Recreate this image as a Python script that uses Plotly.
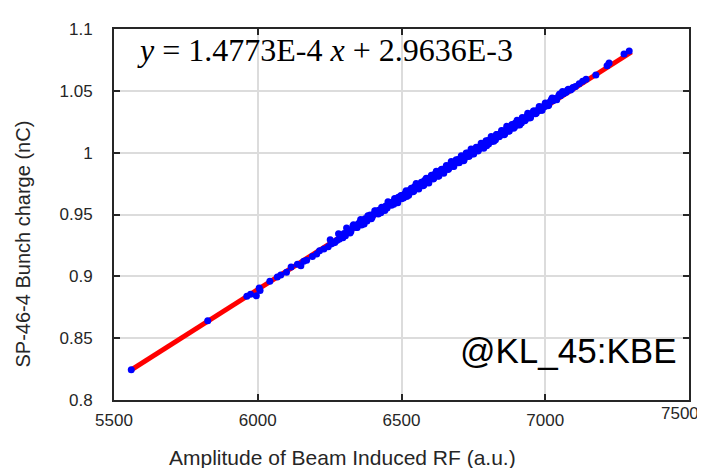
import plotly.graph_objects as go

# ---- data ----
x_vals = [5560, 5826, 5962, 5975, 5995, 6005, 6008, 6042, 6068, 6080, 6100, 6116, 6138, 6150, 6160,
          6170, 6190, 6205, 6215, 6230, 6245, 6255, 6262, 6275, 6283, 6292,
          6300, 6305, 6312, 6318, 6324, 6331, 6336, 6343, 6349, 6355, 6361, 6368, 6373, 6380, 6386,
          6391, 6398, 6404, 6410, 6415, 6421, 6428, 6433, 6439, 6445, 6450, 6456, 6462, 6467, 6473,
          6478, 6484, 6489, 6495, 6500, 6504, 6509, 6513, 6518, 6522, 6527, 6531, 6536, 6540, 6545,
          6549, 6553, 6558, 6562, 6567, 6571, 6575, 6580, 6584, 6588, 6593, 6597, 6601, 6606, 6610,
          6614, 6619, 6623, 6627, 6632, 6636, 6640, 6645, 6649, 6653, 6658, 6662, 6666, 6671, 6675,
          6679, 6684, 6688, 6692, 6697, 6701, 6705, 6710, 6714, 6718, 6723, 6727, 6731, 6736, 6740,
          6744, 6749, 6753, 6757, 6762, 6766, 6770, 6775, 6779, 6783, 6788, 6792, 6796, 6801, 6805,
          6809, 6814, 6818, 6823, 6827, 6832, 6836, 6841, 6845, 6850, 6854, 6859, 6863, 6868, 6872,
          6877, 6881, 6886, 6890, 6895, 6899, 6904, 6908, 6913, 6917, 6922, 6927, 6931, 6936, 6941,
          6946, 6951, 6956, 6961, 6966, 6971, 6976, 6981, 6986, 6991, 6997, 7003, 7009, 7015, 7021,
          7027, 7034, 7040, 7047, 7053, 7060, 7066, 7073, 7080, 7088, 7096, 7105, 7118, 7130, 7142,
          7176, 7215, 7222, 7274, 7292]
y_vals = [0.8244, 0.8640, 0.8838, 0.8856, 0.8842, 0.8905, 0.8885, 0.8960, 0.8994, 0.9010, 0.9034, 0.9076, 0.9098, 0.9085, 0.9122,
          0.9130, 0.9160, 0.9180, 0.9206, 0.9222, 0.9240, 0.9262, 0.9270, 0.9290, 0.9300, 0.9312,
          0.9347, 0.9329, 0.9374, 0.9368, 0.9362, 0.9407, 0.9400, 0.9395, 0.9424, 0.9438, 0.9415, 0.9445, 0.9465, 0.9447, 0.9476,
          0.9496, 0.9477, 0.9505, 0.9529, 0.9511, 0.9535, 0.9515, 0.9555, 0.9550, 0.9569, 0.9552, 0.9591, 0.9586, 0.9599, 0.9583,
          0.9619, 0.9613, 0.9640, 0.9636, 0.9627, 0.9656, 0.9653, 0.9671, 0.9646, 0.9674, 0.9694, 0.9682, 0.9700, 0.9683, 0.9724,
          0.9714, 0.9727, 0.9714, 0.9745, 0.9738, 0.9750, 0.9732, 0.9774, 0.9765, 0.9778, 0.9767, 0.9795, 0.9792, 0.9807, 0.9788,
          0.9824, 0.9814, 0.9828, 0.9810, 0.9846, 0.9841, 0.9866, 0.9844, 0.9867, 0.9868, 0.9887, 0.9863, 0.9894, 0.9890, 0.9915,
          0.9891, 0.9917, 0.9929, 0.9919, 0.9945, 0.9921, 0.9949, 0.9949, 0.9969, 0.9942, 0.9977, 0.9971, 0.9998, 0.9976, 0.9998,
          1.0010, 0.9991, 1.0021, 1.0018, 1.0042, 1.0014, 1.0044, 1.0040, 1.0063, 1.0043, 1.0073, 1.0072, 1.0056, 1.0098, 1.0088,
          1.0103, 1.0090, 1.0120, 1.0117, 1.0105, 1.0146, 1.0139, 1.0132, 1.0158, 1.0152, 1.0175, 1.0150, 1.0181, 1.0183, 1.0174,
          1.0208, 1.0199, 1.0216, 1.0198, 1.0238, 1.0230, 1.0224, 1.0252, 1.0248, 1.0239, 1.0277, 1.0274, 1.0266, 1.0294, 1.0289,
          1.0280, 1.0314, 1.0314, 1.0336, 1.0314, 1.0340, 1.0338, 1.0362, 1.0342, 1.0371, 1.0372, 1.0396, 1.0380, 1.0408, 1.0428,
          1.0419, 1.0438, 1.0428, 1.0462, 1.0460, 1.0495, 1.0482, 1.0488, 1.0513, 1.0507, 1.0526, 1.0536, 1.0557, 1.0578, 1.0593,
          1.0629, 1.0702, 1.0726, 1.0797, 1.0823]

# second pass of points in the dense middle band
x_vals_b = [6252, 6268, 6281, 6296, 6309, 6321, 6333, 6346, 6358, 6370, 6383, 6395, 6407, 6419, 6431,
            6442, 6453, 6465, 6476, 6487, 6498, 6507, 6516, 6525, 6534, 6543, 6551, 6560, 6569, 6578,
            6586, 6595, 6604, 6612, 6621, 6630, 6638, 6647, 6656, 6664, 6673, 6682, 6690, 6699, 6708,
            6716, 6725, 6734, 6742, 6751, 6760, 6768, 6777, 6786, 6794, 6803, 6812, 6821, 6830, 6839,
            6848, 6857, 6866, 6875, 6884, 6893, 6902, 6911, 6920, 6929, 6939, 6949, 6959, 6969, 6979,
            6989, 7000, 7012, 7024, 7037, 7050, 7063, 7077, 7092]
y_vals_b = [0.9296, 0.9274, 0.9344, 0.9311, 0.9390, 0.9350, 0.9418, 0.9395, 0.9460, 0.9424, 0.9489, 0.9465, 0.9531, 0.9505, 0.9558,
            0.9533, 0.9603, 0.9575, 0.9630, 0.9596, 0.9654, 0.9633, 0.9693, 0.9656, 0.9712, 0.9691, 0.9750, 0.9706, 0.9761, 0.9738,
            0.9794, 0.9755, 0.9817, 0.9791, 0.9850, 0.9812, 0.9862, 0.9833, 0.9897, 0.9870, 0.9929, 0.9888, 0.9942, 0.9918, 0.9975,
            0.9934, 0.9997, 0.9968, 1.0030, 0.9989, 1.0043, 1.0022, 1.0076, 1.0036, 1.0097, 1.0071, 1.0131, 1.0093, 1.0146, 1.0128,
            1.0179, 1.0144, 1.0213, 1.0175, 1.0228, 1.0206, 1.0262, 1.0224, 1.0284, 1.0258, 1.0319, 1.0284, 1.0337, 1.0321, 1.0374,
            1.0342, 1.0401, 1.0383, 1.0443, 1.0431, 1.0475, 1.0476, 1.0505, 1.0515]

fit_slope = 1.4773e-4
fit_intercept = 2.9636e-3
fit_x = [5560, 7300]
fit_y = [fit_slope * v + fit_intercept for v in fit_x]

x_ticks = [5500, 6000, 6500, 7000, 7500]
x_tick_text = ["5500", "6000", "6500", "7000", ""]   # last label drawn as an annotation (edge)
x_last_tick = 7500
x_last_label = "7500"
y_ticks = [0.8, 0.85, 0.9, 0.95, 1.0, 1.05, 1.1]
y_tick_text = ["0.8", "0.85", "0.9", "0.95", "1", "1.05", "1.1"]

equation_text = "<i>y</i> = 1.4773E-4 <i>x</i> + 2.9636E-3"
tag_text = "@KL_45:KBE"
x_title = "Amplitude of Beam Induced RF (a.u.)"
y_title = "SP-46-4 Bunch charge (nC)"

tick_font = dict(family="Liberation Sans, Arial", size=17, color="#262626")

fig = go.Figure()
fig.add_trace(go.Scatter(x=fit_x, y=fit_y, mode="lines",
                         line=dict(color="#ff0000", width=5), showlegend=False))
fig.add_trace(go.Scatter(x=x_vals + x_vals_b, y=y_vals + y_vals_b, mode="markers",
                         marker=dict(color="#0000ff", size=7, line=dict(width=0)),
                         showlegend=False))

axis_common = dict(showline=True, linecolor="#262626", linewidth=2, mirror="ticks",
                   ticks="inside", ticklen=6, tickwidth=2, tickcolor="#262626",
                   showgrid=True, gridcolor="#dcdcdc", gridwidth=2, zeroline=False,
                   tickfont=tick_font)

fig.update_xaxes(range=[5500, 7500], tickvals=x_ticks, ticktext=x_tick_text,
                 ticklabelstandoff=4, **axis_common)
fig.update_yaxes(range=[0.8, 1.1], tickvals=y_ticks, ticktext=y_tick_text,
                 ticklabelstandoff=16, **axis_common)

# page body adds an 8px offset, so the figure is 8px smaller than the window
fig.update_layout(
    width=697, height=460,
    margin=dict(l=106, r=16, t=13, b=68),
    plot_bgcolor="white", paper_bgcolor="white",
    annotations=[
        dict(text=x_last_label, xref="x", yref="paper", x=x_last_tick, y=0,
             xanchor="right", yanchor="top", xshift=12, yshift=-2, showarrow=False,
             font=tick_font),
        dict(text=equation_text, xref="paper", yref="paper", x=0, y=1,
             xanchor="left", yanchor="middle", xshift=21, yshift=-21, showarrow=False,
             font=dict(family="Liberation Serif, Times New Roman", size=32, color="black")),
        dict(text=tag_text, xref="paper", yref="paper", x=1, y=0,
             xanchor="right", yanchor="middle", xshift=-10, yshift=50, showarrow=False,
             font=dict(family="Liberation Sans, Arial", size=35, color="black")),
        dict(text=x_title, xref="paper", yref="paper", x=0.5, y=0,
             xanchor="center", yanchor="middle", xshift=-59, yshift=-57, showarrow=False,
             font=dict(family="Liberation Sans, Arial", size=21, color="#262626")),
        dict(text=y_title, xref="paper", yref="paper", x=0, y=0.5, textangle=-90,
             xanchor="center", yanchor="middle", xshift=-92, yshift=-30, showarrow=False,
             font=dict(family="Liberation Sans, Arial", size=20, color="#262626")),
    ],
)

fig.write_html("out.html")
